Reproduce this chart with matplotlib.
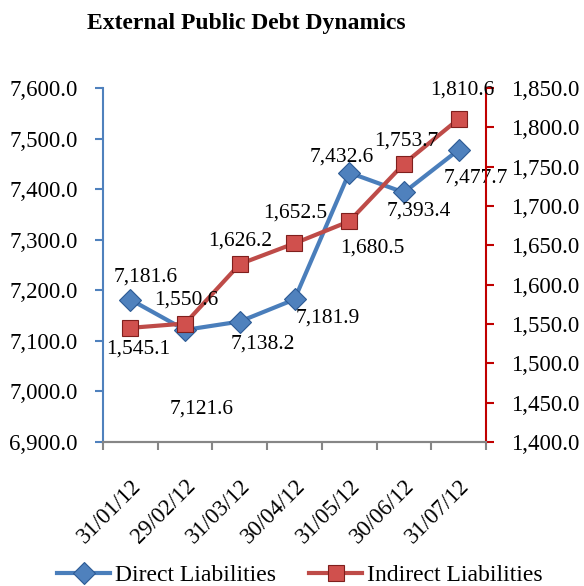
import matplotlib
matplotlib.use("Agg")
import matplotlib.pyplot as plt
from matplotlib.ticker import FixedLocator, FuncFormatter, MultipleLocator

plt.rcParams["font.family"] = ["Liberation Serif", "DejaVu Serif"]

dates = ["31/01/12", "29/02/12", "31/03/12", "30/04/12", "31/05/12", "30/06/12", "31/07/12"]
direct = [7181.6, 7121.6, 7138.2, 7181.9, 7432.6, 7393.4, 7477.7]
indirect = [1545.1, 1550.6, 1626.2, 1652.5, 1680.5, 1753.7, 1810.6]

# label offsets in pixels (x right, y down) as placed in the original
direct_off = [(15, -23), (17, 79), (23, 23), (33, 19), (-7, -16), (15, 19), (17, 28)]
indirect_off = [(8, 21), (1, -23), (0, -23), (1, -30), (23, 27), (2, -23), (4, -29)]

BLUE, BLUE_EDGE = "#4A7EBB", "#2C5A94"
RED, RED_EDGE = "#BE4B48", "#7F1F1D"
fmt = FuncFormatter(lambda v, _: f"{v:,.1f}")

fig = plt.figure(figsize=(5.84, 5.86), dpi=100)
ax = fig.add_axes([103 / 584, 1 - 442 / 586, (486 - 103) / 584, (442 - 88) / 586])
ax2 = ax.twinx()
x = list(range(len(dates)))

ax.plot(x, direct, color=BLUE, lw=3, marker="D", ms=11, mfc="#4F81BD", mec=BLUE_EDGE,
        mew=0.8, label="Direct Liabilities", zorder=3)
ax2.plot(x, indirect, color=RED, lw=3, marker="s", ms=12, mfc="#D0504D", mec=RED_EDGE,
         mew=0.8, label="Indirect Liabilities", zorder=3)

for xi, v, (dx, dy) in zip(x, direct, direct_off):
    ax.annotate(f"{v:,.1f}", (xi, v), xytext=(dx, -dy), textcoords="offset pixels",
                ha="center", va="center", fontsize=15.5)
for xi, v, (dx, dy) in zip(x, indirect, indirect_off):
    ax2.annotate(f"{v:,.1f}", (xi, v), xytext=(dx, -dy), textcoords="offset pixels",
                 ha="center", va="center", fontsize=15.5)

ax.set_xlim(-0.5, len(dates) - 0.5)
ax.set_ylim(6900, 7600)
ax2.set_ylim(1400, 1850)
ax.yaxis.set_major_locator(MultipleLocator(100))
ax2.yaxis.set_major_locator(MultipleLocator(50))
ax.yaxis.set_major_formatter(fmt)
ax2.yaxis.set_major_formatter(fmt)

ax.set_xticks(x)
ax.set_xticklabels(dates, rotation=45, ha="right", va="top", rotation_mode="anchor")
ax.xaxis.set_minor_locator(FixedLocator([i - 0.5 for i in range(len(dates) + 1)]))
ax.tick_params(axis="x", which="major", length=0, labelsize=16.5, pad=24)
ax.tick_params(axis="x", which="minor", length=6, width=1.5, color="#868686")
ax.tick_params(axis="y", length=6, width=1.5, color="#4F81BD", labelsize=16.5, pad=12)
ax2.tick_params(axis="y", length=6, width=1.5, color="#C00000", labelsize=16.5, pad=12)

for a in (ax, ax2):
    a.spines["top"].set_visible(False)
    a.spines["bottom"].set_color("#868686")
    a.spines["bottom"].set_linewidth(1.5)
ax.spines["left"].set_color("#4F81BD")
ax.spines["left"].set_linewidth(1.5)
ax.spines["right"].set_visible(False)
ax2.spines["left"].set_visible(False)
ax2.spines["right"].set_color("#C00000")
ax2.spines["right"].set_linewidth(1.5)

fig.text(246 / 584, 1 - 23 / 586, "External Public Debt Dynamics", ha="center", va="center",
         fontsize=17, fontweight="bold")

h1, l1 = ax.get_legend_handles_labels()
h2, l2 = ax2.get_legend_handles_labels()
fig.legend(h1 + h2, l1 + l2, loc="center", bbox_to_anchor=(300 / 584, 1 - 575 / 586), ncol=2,
           frameon=False, fontsize=17, handlelength=2.25, columnspacing=1.4, handletextpad=0.2,
           borderpad=0, borderaxespad=0)

fig.savefig("out.png", dpi=100)
